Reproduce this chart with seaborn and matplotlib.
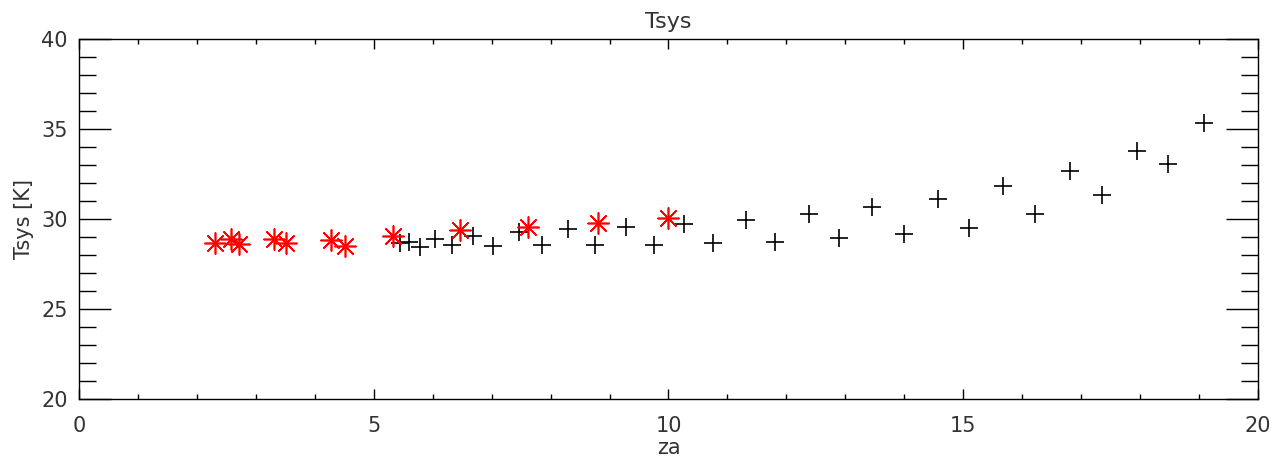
# Tsys vs zenith angle

import seaborn as sns
import matplotlib.pyplot as plt
from matplotlib.ticker import MultipleLocator

# red asterisks
za_red = [2.31, 2.58, 2.72, 3.31, 3.52, 4.28, 4.52, 5.32, 6.47, 7.62, 8.80, 10.00]
tsys_red = [28.67, 28.87, 28.60, 28.90, 28.65, 28.83, 28.50, 29.06, 29.40, 29.54, 29.80, 30.04]

# black crosses
za_black = [5.44, 5.60, 5.78, 6.04, 6.32, 6.68, 7.02, 7.46, 7.85, 8.30, 8.76, 9.28,
            9.75, 10.27, 10.76, 11.31, 11.81, 12.38, 12.89, 13.46, 13.99, 14.57,
            15.10, 15.67, 16.22, 16.81, 17.35, 17.94, 18.48, 19.08]
tsys_black = [28.68, 28.74, 28.46, 28.87, 28.55, 29.06, 28.52, 29.26, 28.55, 29.43,
              28.55, 29.54, 28.55, 29.72, 28.65, 29.94, 28.74, 30.26, 28.93, 30.68,
              29.15, 31.09, 29.52, 31.85, 30.28, 32.68, 31.33, 33.79, 33.03, 35.32]

sns.set_style('white')
plt.rcParams['font.family'] = ['DejaVu Sans']
txt = '#333333'

fig = plt.figure(figsize=(12.86, 4.61), dpi=100)
ax = fig.add_axes([0.0614, 0.1345, 0.9168, 0.781])

sns.scatterplot(x=za_black, y=tsys_black, marker='+', s=160, color='black',
                linewidth=1.2, ax=ax)
sns.scatterplot(x=za_red, y=tsys_red, marker=(8, 2, 0), s=230, color='red',
                linewidth=1.2, ax=ax)

ax.set_xlim(0, 20)
ax.set_ylim(20, 40)
ax.xaxis.set_major_locator(MultipleLocator(5))
ax.xaxis.set_minor_locator(MultipleLocator(1))
ax.yaxis.set_major_locator(MultipleLocator(5))
ax.yaxis.set_minor_locator(MultipleLocator(1))
ax.tick_params(axis='both', which='both', direction='in', top=True, right=True,
               bottom=True, left=True,
               colors='black', labelcolor=txt, labelsize=15, width=1)
ax.tick_params(axis='x', which='major', length=7, pad=12)
ax.tick_params(axis='x', which='minor', length=3.5)
ax.tick_params(axis='y', which='major', length=23, pad=8)
ax.tick_params(axis='y', which='minor', length=12)
for s in ax.spines.values():
    s.set_color('black')
    s.set_linewidth(1)

ax.set_title('Tsys', fontsize=16, color=txt, pad=8)
ax.set_xlabel('za', fontsize=15, color=txt, labelpad=2)
ax.set_ylabel('Tsys [K]', fontsize=15, color=txt, labelpad=5)

plt.savefig('out.png', dpi=100)
